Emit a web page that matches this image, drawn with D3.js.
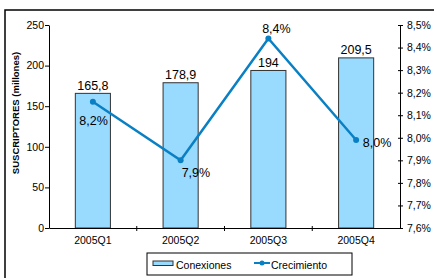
<!DOCTYPE html>
<html>
<head>
<meta charset="utf-8">
<script src="https://cdn.jsdelivr.net/npm/d3@7"></script>
<style>
  body { margin: 0; background: #fff; }
  text { font-family: Arial, "Liberation Sans", sans-serif; fill: #000; }
</style>
</head>
<body>
<div id="chart"></div>
<script>
// Data
const quarters = ["2005Q1", "2005Q2", "2005Q3", "2005Q4"];
const conexiones = [165.8, 178.9, 194, 209.5];
const crecimiento = [8.16, 7.90, 8.44, 7.99];
const crecimientoLabels = ["8,2%", "7,9%", "8,4%", "8,0%"];
const leftTicks = [0, 50, 100, 150, 200, 250];
const rightTicks = [7.6, 7.7, 7.8, 7.9, 8.0, 8.1, 8.2, 8.3, 8.4, 8.5];

const W = 434, H = 278;
const plot = { left: 49, right: 400, top: 25, bottom: 228 };

const svg = d3.select("#chart").append("svg")
    .attr("width", W)
    .attr("height", H);

// Outer frame (cut off on the right and bottom like the original)
svg.append("rect")
    .attr("x", 5).attr("y", 10)
    .attr("width", W + 10).attr("height", H + 10)
    .attr("fill", "none")
    .attr("stroke", "#000")
    .attr("stroke-width", 1.5);

// Scales
const x = d3.scaleBand().domain(quarters).range([plot.left, plot.right]).padding(0);
const y = d3.scaleLinear().domain([0, 250]).range([plot.bottom, plot.top]);
const y2 = d3.scaleLinear().domain([7.6, 8.5]).range([plot.bottom, plot.top]);

const barW = x.bandwidth() * 0.4;
const fmtPct = d => d.toFixed(1).replace(".", ",") + "%";
const fmtNum = d => String(d).replace(".", ",");

// Bars
svg.selectAll("rect.bar")
    .data(conexiones)
    .enter()
    .append("rect")
    .attr("class", "bar")
    .attr("x", (d, i) => x(quarters[i]) + (x.bandwidth() - barW) / 2)
    .attr("y", d => y(d))
    .attr("width", barW)
    .attr("height", d => y(0) - y(d))
    .attr("fill", "#99daff")
    .attr("stroke", "#333")
    .attr("stroke-width", 1);

// Bar value labels
svg.selectAll("text.barlabel")
    .data(conexiones)
    .enter()
    .append("text")
    .attr("class", "barlabel")
    .attr("x", (d, i) => x(quarters[i]) + x.bandwidth() / 2)
    .attr("y", d => y(d) - 3.5)
    .attr("text-anchor", "middle")
    .style("font-size", "12.5px")
    .text(fmtNum);

// Left axis
const leftAxis = svg.append("g")
    .attr("transform", `translate(${plot.left},0)`)
    .call(d3.axisLeft(y).tickValues(leftTicks).tickSize(4).tickPadding(1).tickSizeOuter(0));

// Right axis
const rightAxis = svg.append("g")
    .attr("transform", `translate(${plot.right},0)`)
    .call(d3.axisRight(y2).tickValues(rightTicks).tickSize(3).tickPadding(4).tickFormat(fmtPct).tickSizeOuter(0));
rightAxis.selectAll(".tick line").attr("x1", -2);

// Bottom axis with ticks between categories
const bottomAxis = svg.append("g")
    .attr("transform", `translate(0,${plot.bottom})`)
    .call(d3.axisBottom(x).tickSize(0).tickPadding(9).tickSizeOuter(0));
bottomAxis.selectAll(".tick line").remove();
bottomAxis.selectAll("line.sep")
    .data(quarters.slice(1))
    .enter()
    .append("line")
    .attr("class", "sep")
    .attr("x1", d => x(d)).attr("x2", d => x(d))
    .attr("y1", -2).attr("y2", 3)
    .attr("stroke", "#000");

[leftAxis, rightAxis, bottomAxis].forEach(g => {
  g.select(".domain").attr("stroke", "#000");
  g.selectAll(".tick line").attr("stroke", "#000");
  g.selectAll("text").style("font-size", "10.5px").style("font-family", "Arial, 'Liberation Sans', sans-serif").attr("fill", "#000");
});

// Y axis title
svg.append("text")
    .attr("transform", "translate(19,113) rotate(-90)")
    .attr("text-anchor", "middle")
    .style("font-size", "9.5px")
    .style("font-weight", "bold")
    .text("SUSCRIPTORES (millones)");

// Growth line
const lineColor = "#0a80c4";
const line = d3.line()
    .x((d, i) => x(quarters[i]) + x.bandwidth() / 2)
    .y(d => y2(d));

svg.append("path")
    .datum(crecimiento)
    .attr("d", line)
    .attr("fill", "none")
    .attr("stroke", lineColor)
    .attr("stroke-width", 2.5);

svg.selectAll("circle.pt")
    .data(crecimiento)
    .enter()
    .append("circle")
    .attr("class", "pt")
    .attr("cx", (d, i) => x(quarters[i]) + x.bandwidth() / 2)
    .attr("cy", d => y2(d))
    .attr("r", 3)
    .attr("fill", lineColor);

// Growth labels, placed around each point as in the original
const labelPlace = [
  { dx: 0.7, dy: 23, anchor: "middle" },
  { dx: 1, dy: 16.5, anchor: "start" },
  { dx: 8, dy: -5.6, anchor: "middle" },
  { dx: 6.7, dy: 6.6, anchor: "start" }
];
svg.selectAll("text.pct")
    .data(crecimiento)
    .enter()
    .append("text")
    .attr("class", "pct")
    .attr("x", (d, i) => x(quarters[i]) + x.bandwidth() / 2 + labelPlace[i].dx)
    .attr("y", (d, i) => y2(d) + labelPlace[i].dy)
    .attr("text-anchor", (d, i) => labelPlace[i].anchor)
    .style("font-size", "12.5px")
    .text((d, i) => crecimientoLabels[i]);

// Legend
const legend = svg.append("g").attr("transform", "translate(147,253)");
legend.append("rect")
    .attr("width", 205).attr("height", 22)
    .attr("fill", "#fff").attr("stroke", "#000").attr("stroke-width", 1);
legend.append("rect")
    .attr("x", 6).attr("y", 8).attr("width", 20).attr("height", 4.5)
    .attr("fill", "#99daff").attr("stroke", "#333").attr("stroke-width", 1);
legend.append("text")
    .attr("x", 29).attr("y", 15.5)
    .style("font-size", "10.5px")
    .text("Conexiones");
legend.append("line")
    .attr("x1", 107).attr("x2", 123).attr("y1", 10).attr("y2", 10)
    .attr("stroke", lineColor).attr("stroke-width", 2);
legend.append("circle")
    .attr("cx", 115).attr("cy", 10).attr("r", 2.5).attr("fill", lineColor);
legend.append("text")
    .attr("x", 124).attr("y", 15.5)
    .style("font-size", "10.5px")
    .text("Crecimiento");
</script>
</body>
</html>
